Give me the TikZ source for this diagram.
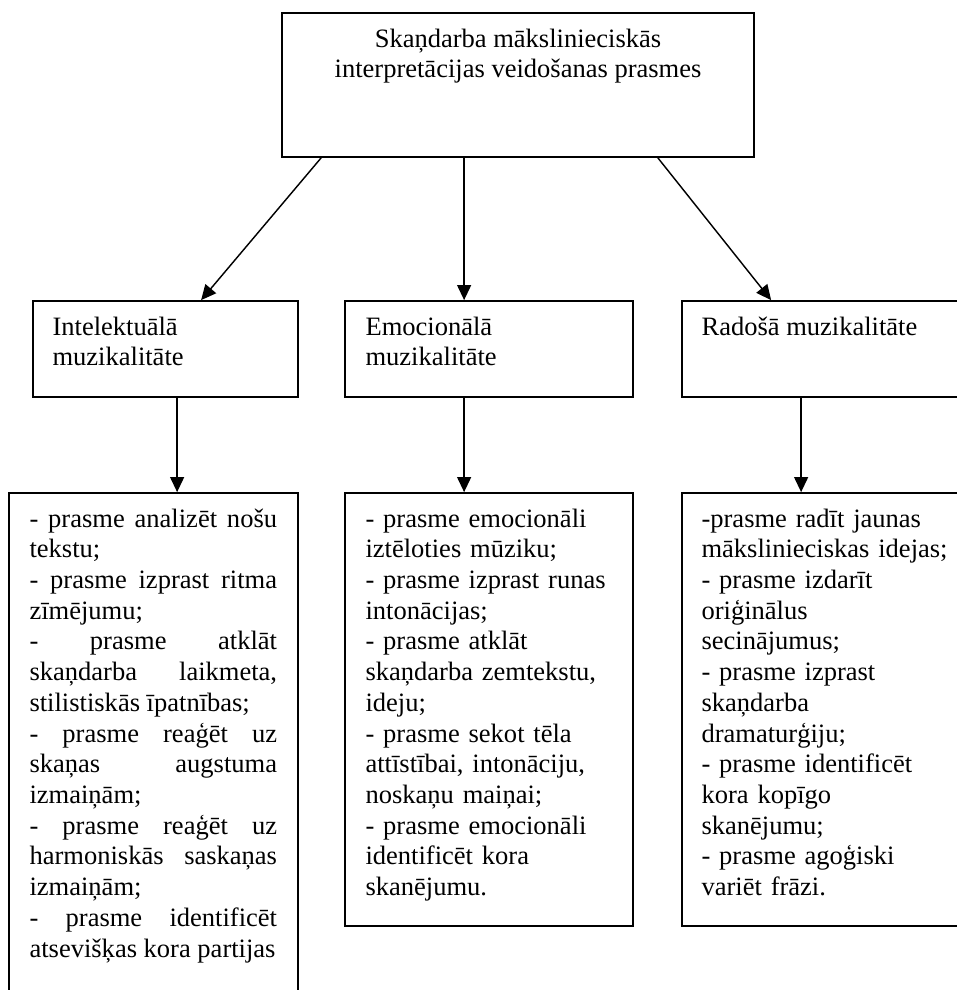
\documentclass[tikz,border=0pt]{standalone}
\usepackage{fontspec}
\setmainfont{Liberation Serif}
\usepackage{tikz}
\usetikzlibrary{positioning}
\usetikzlibrary{arrows.meta}
\usetikzlibrary{calc}
\usetikzlibrary{fit}
\hbadness=10000
\tolerance=10000

\begin{document}
\begin{tikzpicture}[x=0.4525pt, y=-0.4525pt,
  box/.style={draw, line width=0.8pt, inner sep=0pt},
  txt/.style={anchor=north west, inner sep=0pt, font=\fontsize{12}{13.9}\selectfont},
  arr/.style={line width=0.65pt, -{Triangle[length=6.8pt, width=6.3pt]}}]

\useasboundingbox (0,0) rectangle (957,990);
\clip (0,0) rectangle (957,990);

%\draw[gray,very thin, step=50, opacity=0.5] (0,0) grid (957,990);

% top
\node[box, fit={(282,13) (754,157)}] (main) {};
\node[txt, anchor=north, align=center] (mainT) at ($(main.north)+(0,13)$)
  {\strut Skaņdarba mākslinieciskās\\interpretācijas veidošanas prasmes};

% middle row
\node[box, fit={(33,301) (298,397)}] (int) {};
\node[box, fit={(345,301) (633,397)}] (emo) {};
\node[box, fit={(682,301) (975,397)}] (rad) {};

\node[txt, align=left] (intT) at ($(int.north west)+(20,13)$) {\strut Intelektuālā\\muzikalitāte};
\node[txt, align=left] (emoT) at ($(emo.north west)+(21,13)$) {\strut Emocionālā\\muzikalitāte};
\node[txt, align=left] (radT) at ($(rad.north west)+(20,13)$) {\strut Radošā muzikalitāte};

% bottom row
\node[box, fit={(9,493) (298,1005)}] (intL) {};
\node[box, fit={(345,493) (633,926)}] (emoL) {};
\node[box, fit={(682,493) (975,926)}] (radL) {};

\node[txt, text width=112pt, align=justify] (intLT) at ($(intL.north west)+(21,13)$)
  {\strut - prasme analizēt nošu\linebreak tekstu;\par
  - prasme izprast ritma\linebreak zīmējumu;\par
  - prasme atklāt\linebreak skaņdarba laikmeta,\linebreak stilistiskās īpatnības;\par
  - prasme reaģēt uz\linebreak skaņas augstuma\linebreak izmaiņām;\par
  - prasme reaģēt uz\linebreak harmoniskās saskaņas\linebreak izmaiņām;\par
  - prasme identificēt\linebreak atsevišķas kora partijas};

\node[txt, text width=112pt, align=left] (emoLT) at ($(emoL.north west)+(21,13)$)
  {\strut - prasme emocionāli\\ iztēloties mūziku;\\ - prasme izprast runas\\ intonācijas;\\
  - prasme atklāt\\ skaņdarba zemtekstu,\\ ideju;\\ - prasme sekot tēla\\
  attīstībai, intonāciju,\\ noskaņu maiņai;\\ - prasme emocionāli\\ identificēt kora\\ skanējumu.};

\node[txt, text width=112pt, align=left] (radLT) at ($(radL.north west)+(20,13)$)
  {\strut -prasme radīt jaunas\\ mākslinieciskas idejas;\\ - prasme izdarīt\\ oriģinālus\\
  secinājumus;\\ - prasme izprast\\ skaņdarba\\ dramaturģiju;\\ - prasme identificēt\\
  kora kopīgo\\ skanējumu;\\ - prasme agoģiski\\ variēt frāzi.};

% arrows
\draw[arr] ($(main.south west)+(40,0)$) -- ($(int.north west)+(169,0)$);
\draw[arr] ($(main.south west)+(183,0)$) -- ($(emo.north west)+(120,0)$);
\draw[arr] ($(main.south east)+(-97,0)$) -- ($(rad.north west)+(90,0)$);

\draw[arr] ($(int.south west)+(145,0)$) -- ($(intL.north west)+(169,0)$);
\draw[arr] ($(emo.south west)+(120,0)$) -- ($(emoL.north west)+(120,0)$);
\draw[arr] ($(rad.south west)+(120,0)$) -- ($(radL.north west)+(120,0)$);

\end{tikzpicture}
\end{document}
